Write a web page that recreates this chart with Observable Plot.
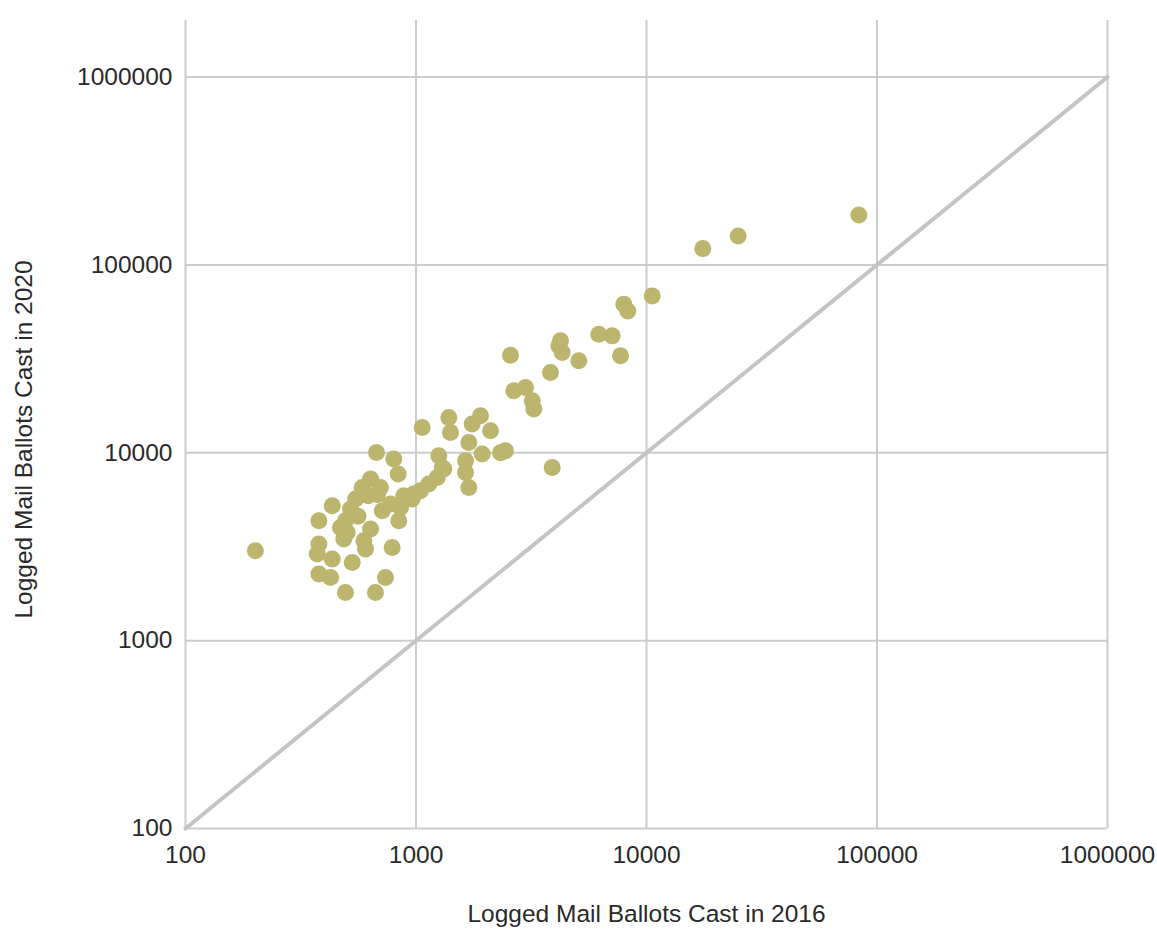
<!DOCTYPE html>
<html><head><meta charset="utf-8">
<script src="https://cdn.jsdelivr.net/npm/d3@7"></script>
<script src="https://cdn.jsdelivr.net/npm/@observablehq/plot@0.6"></script>
<style>body{margin:0;background:#fff;}</style>
</head><body><div id="chart"></div>
<script>
// Mail ballots cast per county (2016 vs 2020)
const ballots2016 = [201, 433, 379, 379, 373, 433, 529, 379, 426, 494, 667, 737, 788, 486, 594, 604, 503, 635, 494, 520, 547, 584, 635, 701, 714, 775, 842, 885, 962, 1046, 1137, 1236, 1299, 674, 801, 837, 1256, 1064, 1388, 1411, 1753, 1905, 2105, 1695, 1937, 2445, 2326, 1320, 1640, 1640, 1695, 857, 978, 470, 2570, 2657, 2987, 3193, 3244, 3833, 3899, 4165, 4308, 4236, 5085, 6210, 7099, 7714, 7972, 8297, 10586, 17550, 24990, 83410, 560, 620, 680];
const ballots2020 = [3010, 5225, 4348, 3268, 2892, 2720, 2609, 2263, 2171, 1806, 1806, 2171, 3135, 3475, 3404, 3074, 3767, 3928, 4348, 5017, 5671, 6538, 7246, 6538, 4914, 5335, 4348, 5905, 5671, 6279, 6815, 7388, 8352, 10037, 9257, 7703, 9638, 13630, 15410, 12824, 14210, 15730, 13092, 11345, 9842, 10247, 10000, 8190, 9067, 7855, 6538, 5117, 6030, 4006, 33090, 21370, 22250, 18910, 17080, 26740, 8352, 37090, 34160, 39420, 30860, 42800, 41910, 32810, 61810, 56920, 68420, 122100, 142700, 184500, 4600, 5900, 6000];
// Reference line y = x
const refLine2016 = [100, 1000000];
const refLine2020 = [100, 1000000];
const tickValues = [100, 1000, 10000, 100000, 1000000];
const xTitle = "Logged Mail Ballots Cast in 2016";
const yTitle = "Logged Mail Ballots Cast in 2020";

const counties = ballots2016.map((v, i) => ({x: v, y: ballots2020[i]}));
const diag = refLine2016.map((v, i) => ({x: v, y: refLine2020[i]}));
const font = "'Liberation Sans', Arial, sans-serif";
const fs = 24.5;

const chart = Plot.plot({
  width: 1157, height: 931,
  marginLeft: 185, marginRight: 50, marginTop: 20, marginBottom: 103,
  style: {fontFamily: font, fontSize: fs + "px", color: "#2a2a2a", background: "#fff"},
  x: {type: "log", domain: [100, 1000000]},
  y: {type: "log", domain: [100, 2000000]},
  marks: [
    Plot.gridX(tickValues, {stroke: "#cccccc", strokeOpacity: 1, strokeWidth: 2}),
    Plot.gridY(tickValues, {stroke: "#cccccc", strokeOpacity: 1, strokeWidth: 2}),
    Plot.axisX(tickValues, {tickSize: 0, tickPadding: 17, label: null, tickFormat: d => String(d), fontSize: fs, fill: "#2a2a2a"}),
    Plot.axisY(tickValues, {tickSize: 0, tickPadding: 13, label: null, tickFormat: d => String(d), fontSize: fs, fill: "#2a2a2a"}),
    Plot.line(diag, {x: "x", y: "y", stroke: "#c4c4c4", strokeWidth: 4, strokeLinecap: "round"}),
    Plot.dot(counties, {x: "x", y: "y", r: 8.5, fill: "#bbb56e", stroke: null}),
    Plot.text([xTitle], {text: d => d, frameAnchor: "bottom", textAnchor: "middle", dy: 93, fontSize: fs, fill: "#2a2a2a"}),
    Plot.text([yTitle], {text: d => d, frameAnchor: "left", textAnchor: "middle", rotate: -90, dx: -161, dy: 15, fontSize: fs, fill: "#2a2a2a"})
  ]
});
document.getElementById("chart").appendChild(chart);
</script>
</body></html>
